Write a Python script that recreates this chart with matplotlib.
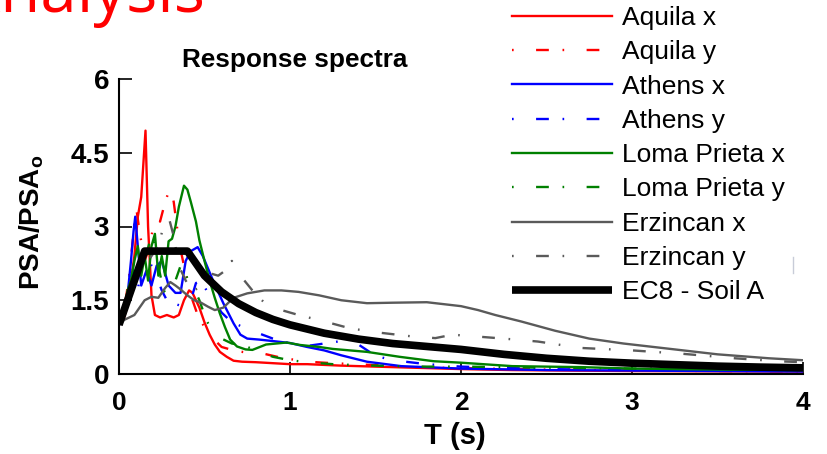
import matplotlib.pyplot as plt
from matplotlib.lines import Line2D

# ---------------------------------------------------------------
# data (T in s, PSA/PSAo)
# ---------------------------------------------------------------
aquila_x_T = [0, 0.03, 0.05, 0.07, 0.09, 0.11, 0.13, 0.155, 0.17, 0.19, 0.21, 0.24,
              0.28, 0.32, 0.35, 0.38, 0.41, 0.43, 0.47, 0.50, 0.53, 0.56, 0.59, 0.63,
              0.67, 0.72, 0.80, 0.90, 1.0, 1.1, 1.3, 1.5, 1.7, 2.0, 2.3, 2.6, 3.0, 3.4, 4.0]
aquila_x_v = [1.0, 1.15, 1.4, 1.9, 2.4, 3.2, 3.6, 4.95, 3.0, 1.6, 1.2, 1.15,
              1.2, 1.15, 1.2, 1.5, 1.7, 1.65, 1.35, 1.05, 0.8, 0.6, 0.45, 0.35,
              0.27, 0.25, 0.24, 0.22, 0.2, 0.2, 0.17, 0.15, 0.13, 0.1, 0.08, 0.07, 0.06, 0.055, 0.05]

aquila_y_T = [0, 0.03, 0.06, 0.08, 0.10, 0.12, 0.15, 0.18, 0.21, 0.24, 0.27, 0.30, 0.32,
              0.35, 0.38, 0.42, 0.46, 0.50, 0.55, 0.60, 0.68, 0.76, 0.85, 0.95, 1.1, 1.25,
              1.5, 1.8, 2.0, 2.5, 3.0, 3.5, 4.0]
aquila_y_v = [1.0, 1.3, 2.0, 2.7, 3.4, 2.9, 2.3, 2.6, 3.2, 3.1, 3.5, 3.8, 3.5,
              2.7, 2.2, 1.6, 1.2, 0.95, 0.72, 0.55, 0.47, 0.43, 0.41, 0.33, 0.25, 0.22,
              0.18, 0.13, 0.12, 0.09, 0.07, 0.06, 0.05]

athens_x_T = [0, 0.03, 0.05, 0.07, 0.085, 0.095, 0.11, 0.13, 0.16, 0.19, 0.22, 0.25, 0.29,
              0.33, 0.36, 0.39, 0.42, 0.46, 0.49, 0.55, 0.61, 0.67, 0.71, 0.75, 0.82, 0.9,
              1.0, 1.1, 1.2, 1.3, 1.45, 1.65, 2.0, 2.5, 3.0, 3.5, 4.0]
athens_x_v = [1.0, 1.2, 1.6, 2.3, 2.9, 3.2, 2.6, 1.8, 2.1, 1.8, 2.2, 2.3, 1.8,
              1.65, 1.65, 2.3, 2.5, 2.58, 2.4, 1.9, 1.44, 1.03, 0.8, 0.72, 0.7, 0.67,
              0.63, 0.55, 0.48, 0.38, 0.25, 0.16, 0.11, 0.08, 0.07, 0.06, 0.05]

athens_y_T = [0, 0.03, 0.05, 0.07, 0.09, 0.11, 0.13, 0.16, 0.19, 0.22, 0.25, 0.28, 0.31,
              0.35, 0.39, 0.42, 0.45, 0.48, 0.52, 0.56, 0.60, 0.66, 0.73, 0.8, 0.9, 1.0,
              1.1, 1.2, 1.3, 1.4, 1.5, 1.6, 1.8, 2.0, 2.5, 3.0, 3.5, 4.0]
athens_y_v = [1.0, 1.1, 1.5, 2.3, 2.0, 1.7, 2.2, 2.5, 2.2, 2.0, 1.7, 1.5, 1.45,
              1.4, 1.35, 1.5, 1.85, 1.9, 1.65, 1.45, 1.25, 1.05, 0.95, 0.85, 0.72, 0.62,
              0.57, 0.62, 0.67, 0.6, 0.37, 0.28, 0.2, 0.15, 0.1, 0.08, 0.07, 0.06]

loma_x_T = [0, 0.03, 0.05, 0.07, 0.09, 0.11, 0.13, 0.15, 0.17, 0.19, 0.21, 0.23, 0.25,
            0.27, 0.29, 0.31, 0.33, 0.35, 0.38, 0.40, 0.42, 0.45, 0.47, 0.50, 0.53, 0.56,
            0.59, 0.62, 0.65, 0.69, 0.74, 0.78, 0.86, 0.98, 1.06, 1.17, 1.25, 1.45, 1.64,
            1.84, 2.0, 2.3, 2.7, 3.0, 3.5, 4.0]
loma_x_v = [1.0, 1.3, 1.7, 1.9, 2.3, 2.6, 2.0, 2.4, 1.9, 2.6, 2.85, 2.0, 2.4,
            2.0, 2.7, 2.75, 3.0, 3.4, 3.83, 3.75, 3.5, 3.1, 2.72, 2.3, 1.9, 1.55,
            1.23, 0.95, 0.7, 0.56, 0.5, 0.49, 0.6, 0.64, 0.59, 0.55, 0.51, 0.45, 0.35,
            0.26, 0.23, 0.16, 0.14, 0.11, 0.09, 0.08]

loma_y_T = [0, 0.03, 0.06, 0.09, 0.12, 0.15, 0.18, 0.20, 0.23, 0.26, 0.29, 0.32, 0.36,
            0.40, 0.43, 0.47, 0.51, 0.55, 0.60, 0.66, 0.73, 0.8, 0.9, 1.0, 1.1, 1.25,
            1.4, 1.6, 1.8, 2.0, 2.5, 3.0, 3.5, 4.0]
loma_y_v = [1.0, 1.3, 1.6, 1.9, 2.2, 2.3, 2.7, 2.8, 2.2, 1.7, 1.6, 1.8, 2.2,
            1.95, 1.8, 1.5, 1.1, 0.85, 0.72, 0.62, 0.58, 0.48, 0.35, 0.28, 0.24, 0.2,
            0.18, 0.16, 0.15, 0.15, 0.13, 0.11, 0.1, 0.09]

erz_x_T = [0, 0.03, 0.06, 0.09, 0.12, 0.15, 0.19, 0.23, 0.27, 0.30, 0.33, 0.36, 0.40,
           0.44, 0.48, 0.52, 0.56, 0.61, 0.67, 0.75, 0.85, 0.95, 1.05, 1.17, 1.3, 1.45,
           1.6, 1.8, 2.0, 2.1, 2.2, 2.35, 2.55, 2.75, 2.95, 3.1, 3.25, 3.5, 3.8, 4.0]
erz_x_v = [1.0, 1.1, 1.15, 1.2, 1.35, 1.5, 1.57, 1.55, 1.75, 1.87, 1.8, 1.72, 1.6,
           1.5, 1.45, 1.37, 1.3, 1.35, 1.55, 1.64, 1.7, 1.7, 1.67, 1.6, 1.5, 1.44,
           1.45, 1.46, 1.38, 1.3, 1.2, 1.07, 0.88, 0.72, 0.62, 0.56, 0.5, 0.4, 0.32, 0.28]

erz_y_T = [0, 0.04, 0.08, 0.12, 0.15, 0.19, 0.23, 0.26, 0.29, 0.32, 0.35, 0.39, 0.43,
           0.47, 0.53, 0.58, 0.62, 0.66, 0.71, 0.78, 0.85, 0.95, 1.05, 1.2, 1.35, 1.5,
           1.7, 1.85, 1.95, 2.1, 2.25, 2.45, 2.7, 3.0, 3.3, 3.6, 3.85, 4.0]
erz_y_v = [1.0, 1.3, 1.7, 2.1, 2.2, 2.4, 2.6, 3.0, 3.2, 2.8, 2.2, 1.9, 1.7,
           1.75, 2.05, 2.0, 2.1, 2.3, 2.0, 1.7, 1.45, 1.3, 1.2, 1.07, 0.93, 0.85,
           0.77, 0.73, 0.8, 0.76, 0.72, 0.66, 0.53, 0.48, 0.41, 0.32, 0.26, 0.24]

ec8_T = [0, 0.15, 0.4, 0.5, 0.6, 0.7, 0.8, 0.9, 1.0, 1.2, 1.4, 1.6, 1.8, 2.0,
         2.25, 2.5, 2.75, 3.0, 3.25, 3.5, 3.75, 4.0]
ec8_v = [1.0, 2.5, 2.5, 2.0, 1.67, 1.43, 1.25, 1.11, 1.0, 0.83, 0.71, 0.62, 0.56, 0.5,
         0.4, 0.32, 0.26, 0.22, 0.19, 0.16, 0.14, 0.125]

x_ticks = [0, 1, 2, 3, 4]
y_ticks = [0, 1.5, 3, 4.5, 6]
y_tick_labels = ["0", "1.5", "3", "4.5", "6"]

# ---------------------------------------------------------------
# styling
# ---------------------------------------------------------------
plt.rcParams.update({
    "font.family": "Liberation Sans",
    "mathtext.fontset": "custom",
    "mathtext.bf": "Liberation Sans:bold",
    "mathtext.rm": "Liberation Sans",
})

DASHDOT = (0, (0.7, 9.5, 5.4, 5.8))
LW = 1.7
GREY = "#5a5a5a"

series = [
    (aquila_x_T, aquila_x_v, "Aquila x", "#ff0000", "-"),
    (aquila_y_T, aquila_y_v, "Aquila y", "#ff0000", DASHDOT),
    (athens_x_T, athens_x_v, "Athens x", "#0000ff", "-"),
    (athens_y_T, athens_y_v, "Athens y", "#0000ff", DASHDOT),
    (loma_x_T, loma_x_v, "Loma Prieta x", "#008000", "-"),
    (loma_y_T, loma_y_v, "Loma Prieta y", "#008000", DASHDOT),
    (erz_x_T, erz_x_v, "Erzincan x", GREY, "-"),
    (erz_y_T, erz_y_v, "Erzincan y", GREY, DASHDOT),
]

fig = plt.figure(figsize=(8.27, 4.54), dpi=100)
ax = fig.add_axes([119 / 827, 1 - 374 / 454, 684 / 827, 295 / 454])

handles = []
for T, v, name, col, ls in series:
    h, = ax.plot(T, v, color=col, linestyle=ls, lw=LW, label=name)
    handles.append(h)
h, = ax.plot(ec8_T, ec8_v, color="black", lw=5.5, label="EC8 - Soil A",
             solid_capstyle="butt")
handles.append(h)

ax.set_xlim(0, 4)
ax.set_ylim(0, 6)
ax.set_xticks(x_ticks)
ax.set_xticklabels([str(t) for t in x_ticks])
ax.set_yticks(y_ticks)
ax.set_yticklabels(y_tick_labels)
for sp in ("top", "right"):
    ax.spines[sp].set_visible(False)
for sp in ("left", "bottom"):
    ax.spines[sp].set_linewidth(1.5)
ax.tick_params(direction="in", length=9, width=1.2)
ax.tick_params(axis="x", labelsize=19, pad=12)
ax.tick_params(axis="y", labelsize=20, pad=7)
for lab in ax.get_xticklabels() + ax.get_yticklabels():
    lab.set_fontweight("bold")

ax.set_xlabel("T (s)", fontsize=21, fontweight="bold")
ax.xaxis.set_label_coords((455 - 119) / 684, (374 - 422) / 295)
ax.set_ylabel(r"PSA/PSA$_\mathbf{o}$", fontsize=20, fontweight="bold")
ax.yaxis.set_label_coords((46 - 119) / 684, (374 - 222) / 295)

fig.text(295 / 827, 1 - 60 / 454, "Response spectra", fontsize=18.8,
         fontweight="bold", ha="center", va="center")

# slide title remnant, cut off at the left/top edge
fig.text(205 / 827, 1 - 12 / 454, "Analysis", fontsize=47, color="#ff0000",
         family="Open Sans", ha="right", va="baseline")

fig.legend(handles=handles, loc="upper left", bbox_to_anchor=(512 / 827, 1 - 6 / 454),
           frameon=False, prop={"family": "Liberation Sans", "size": 19},
           handlelength=3.79, handletextpad=0.38, labelspacing=0.39,
           borderpad=0, borderaxespad=0)

# small stray mark right of legend
fig.add_artist(Line2D([793 / 827, 793 / 827], [1 - 257 / 454, 1 - 273 / 454],
                      color="#c8ccd8", lw=1))

fig.savefig("out.png", dpi=100)
